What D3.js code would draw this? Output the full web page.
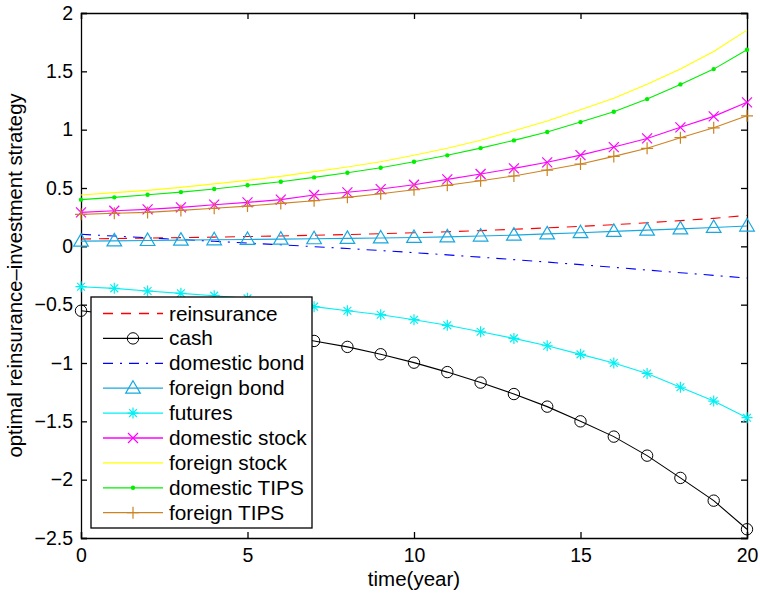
<!DOCTYPE html>
<html>
<head>
<meta charset="utf-8">
<script src="https://cdn.jsdelivr.net/npm/d3@7"></script>
<style>
  body { margin: 0; background: #fff; }
  svg text { font-family: "Liberation Sans", Arial, sans-serif; fill: #000; }
</style>
</head>
<body>
<script>
// data
let years = [0, 1, 2, 3, 4, 5, 6, 7, 8, 9, 10, 11, 12, 13, 14, 15, 16, 17, 18, 19, 20]
let reinsurance = [0.063, 0.067, 0.071, 0.075, 0.079, 0.084, 0.089, 0.095, 0.101, 0.108, 0.116, 0.125, 0.135, 0.146, 0.158, 0.171, 0.186, 0.202, 0.22, 0.24, 0.265]
let cash = [-0.552, -0.583, -0.615, -0.648, -0.683, -0.72, -0.763, -0.811, -0.862, -0.925, -0.997, -1.078, -1.168, -1.266, -1.374, -1.5, -1.631, -1.794, -1.985, -2.18, -2.425]
let domesticBond = [0.103, 0.088, 0.073, 0.058, 0.043, 0.028, 0.013, -0.003, -0.019, -0.036, -0.054, -0.073, -0.093, -0.114, -0.135, -0.157, -0.18, -0.203, -0.226, -0.249, -0.272]
let foreignBond = [0.045, 0.047, 0.05, 0.053, 0.056, 0.059, 0.062, 0.065, 0.068, 0.072, 0.076, 0.081, 0.088, 0.096, 0.107, 0.117, 0.128, 0.139, 0.15, 0.162, 0.174]
let futures = [-0.346, -0.36, -0.383, -0.403, -0.423, -0.446, -0.479, -0.517, -0.552, -0.586, -0.629, -0.677, -0.732, -0.789, -0.852, -0.926, -1.0, -1.09, -1.208, -1.326, -1.469]
let domesticStock = [0.291, 0.305, 0.317, 0.334, 0.357, 0.377, 0.4, 0.44, 0.463, 0.491, 0.528, 0.574, 0.62, 0.668, 0.72, 0.782, 0.851, 0.925, 1.02, 1.114, 1.234]
let foreignStock = [0.44, 0.46, 0.48, 0.505, 0.535, 0.565, 0.6, 0.64, 0.68, 0.725, 0.78, 0.84, 0.91, 0.99, 1.075, 1.17, 1.27, 1.39, 1.52, 1.67, 1.853]
let domesticTIPS = [0.4, 0.42, 0.442, 0.465, 0.491, 0.523, 0.554, 0.591, 0.631, 0.674, 0.725, 0.78, 0.842, 0.908, 0.98, 1.065, 1.153, 1.262, 1.388, 1.519, 1.685]
let foreignTIPS = [0.274, 0.283, 0.291, 0.308, 0.326, 0.345, 0.368, 0.391, 0.42, 0.451, 0.485, 0.523, 0.562, 0.603, 0.654, 0.705, 0.771, 0.84, 0.931, 1.016, 1.119]

let xTicks = [0, 5, 10, 15, 20]
let yTicks = [-2.5, -2, -1.5, -1, -0.5, 0, 0.5, 1, 1.5, 2]

let seriesNames = ['reinsurance', 'cash', 'domestic bond', 'foreign bond', 'futures', 'domestic stock', 'foreign stock', 'domestic TIPS', 'foreign TIPS']
let seriesValues = [reinsurance, cash, domesticBond, foreignBond, futures, domesticStock, foreignStock, domesticTIPS, foreignTIPS]
let seriesColors = ['#ff0000', '#000000', '#0000ff', '#18a8df', '#00f0f4', '#ff00ff', '#ffff00', '#00ee00', '#cc8422']
let seriesDash = ['10,8', null, '10,7,2,7', null, null, null, null, null, null]
let seriesMarker = ['none', 'circle', 'none', 'triangle', 'star', 'x', 'none', 'dot', 'plus']

let width = 760
let height = 594
let margin = { left: 81, right: 13, top: 13, bottom: 56 }

let svg = d3.select('body')
  .append('svg')
  .attr('width', width)
  .attr('height', height)

let xScale = d3.scaleLinear().domain([0, 20]).range([margin.left, width - margin.right])
let yScale = d3.scaleLinear().domain([-2.5, 2]).range([height - margin.bottom, margin.top])

let fmt = d => String(d).replace('-', '\u2212')

// axes (MATLAB style box with inward ticks)
svg.append('g')
  .attr('transform', 'translate(0,' + (height - margin.bottom) + ')')
  .call(d3.axisBottom(xScale).tickValues(xTicks).tickSize(-6).tickPadding(10).tickFormat(fmt))
svg.append('g')
  .attr('transform', 'translate(0,' + margin.top + ')')
  .call(d3.axisTop(xScale).tickValues(xTicks).tickSize(-6).tickFormat(''))
svg.append('g')
  .attr('transform', 'translate(' + margin.left + ',0)')
  .call(d3.axisLeft(yScale).tickValues(yTicks).tickSize(-6).tickPadding(8).tickFormat(fmt))
svg.append('g')
  .attr('transform', 'translate(' + (width - margin.right) + ',0)')
  .call(d3.axisRight(yScale).tickValues(yTicks).tickSize(-6).tickFormat(''))

svg.selectAll('.domain').attr('stroke', '#000').attr('stroke-width', 1.3)
svg.selectAll('.tick line').attr('stroke', '#000').attr('stroke-width', 1.3)
svg.selectAll('.tick text').style('font-size', '19.5px')

// axis titles
svg.append('text')
  .attr('x', (xScale(0) + xScale(20)) / 2)
  .attr('y', 586)
  .attr('text-anchor', 'middle')
  .style('font-size', '20.5px')
  .text('time(year)')
svg.append('text')
  .attr('transform', 'translate(22,' + (yScale(-2.5) + yScale(2)) / 2 + ') rotate(-90)')
  .attr('text-anchor', 'middle')
  .style('font-size', '20.3px')
  .text('optimal reinsurance\u2013investment strategy')

// marker drawing
function drawMarker(g, type, color, x, y) {
  if (type === 'circle') {
    g.append('circle').attr('cx', x).attr('cy', y).attr('r', 5.7)
      .attr('fill', 'none').attr('stroke', color).attr('stroke-width', 1)
  } else if (type === 'triangle') {
    g.append('path')
      .attr('d', 'M' + x + ',' + (y - 7.5) + 'L' + (x + 7.3) + ',' + (y + 5) + 'L' + (x - 7.3) + ',' + (y + 5) + 'Z')
      .attr('fill', 'none').attr('stroke', color).attr('stroke-width', 1.2)
  } else if (type === 'star') {
    let s = 5.5, d = 3.9
    g.append('path')
      .attr('d', 'M' + (x - s) + ',' + y + 'h' + 2 * s + 'M' + x + ',' + (y - s) + 'v' + 2 * s +
        'M' + (x - d) + ',' + (y - d) + 'l' + 2 * d + ',' + 2 * d + 'M' + (x - d) + ',' + (y + d) + 'l' + 2 * d + ',' + (-2 * d))
      .attr('stroke', color).attr('stroke-width', 1.2)
  } else if (type === 'x') {
    let d = 5
    g.append('path')
      .attr('d', 'M' + (x - d) + ',' + (y - d) + 'l' + 2 * d + ',' + 2 * d + 'M' + (x - d) + ',' + (y + d) + 'l' + 2 * d + ',' + (-2 * d))
      .attr('stroke', color).attr('stroke-width', 1.2)
  } else if (type === 'plus') {
    let s = 6
    g.append('path')
      .attr('d', 'M' + (x - s) + ',' + y + 'h' + 2 * s + 'M' + x + ',' + (y - s) + 'v' + 2 * s)
      .attr('stroke', color).attr('stroke-width', 1.2)
  } else if (type === 'dot') {
    g.append('circle').attr('cx', x).attr('cy', y).attr('r', 2.2).attr('fill', color)
  }
}

// lines
let line = d3.line()
  .x((d, i) => xScale(years[i]))
  .y(d => yScale(d))

seriesValues.forEach((vals, k) => {
  let g = svg.append('g')
  g.append('path')
    .attr('d', line(vals))
    .attr('fill', 'none')
    .attr('stroke', seriesColors[k])
    .attr('stroke-width', 1.1)
    .attr('stroke-dasharray', seriesDash[k])
  vals.forEach((v, i) => drawMarker(g, seriesMarker[k], seriesColors[k], xScale(years[i]), yScale(v)))
})

// legend
let legend = svg.append('g').attr('transform', 'translate(91,297)')
legend.append('rect')
  .attr('width', 221)
  .attr('height', 231)
  .attr('fill', '#fff')
  .attr('stroke', '#000')
  .attr('stroke-width', 1.3)
seriesNames.forEach((name, k) => {
  let y = 16.5 + k * 24.9
  let row = legend.append('g')
  row.append('line')
    .attr('x1', 12).attr('x2', 72).attr('y1', y).attr('y2', y)
    .attr('stroke', seriesColors[k])
    .attr('stroke-width', 1.3)
    .attr('stroke-dasharray', seriesDash[k])
  drawMarker(row, seriesMarker[k], seriesColors[k], 42, y)
  row.append('text')
    .attr('x', 78)
    .attr('y', y + 7)
    .style('font-size', '20.8px')
    .text(name)
})
</script>
</body>
</html>
